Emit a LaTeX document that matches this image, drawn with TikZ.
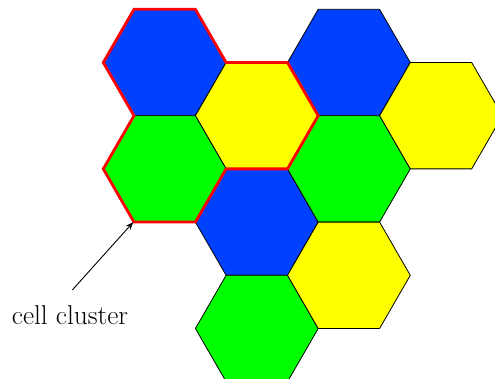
\documentclass[tikz,border=0pt]{standalone}
\usepackage{tikz}
\usetikzlibrary{arrows.meta}
\definecolor{cellblue}{RGB}{0,64,255}
\definecolor{cellyellow}{RGB}{255,255,0}
\definecolor{cellgreen}{RGB}{0,255,0}
\newcommand\hexR{61.4}
\newcommand\hexcell[3]{%
  \filldraw[hexline,fill=#3] (#1,#2) ++(0:\hexR) -- ++(120:\hexR) -- ++(180:\hexR) -- ++(240:\hexR) -- ++(300:\hexR) -- ++(0:\hexR) -- cycle;}
\tikzset{
  hexline/.style={draw=black,line width=0.8pt,line join=miter},
  clusterline/.style={draw=red,line width=2.8pt,line join=miter},
  pointer/.style={-{Stealth[length=8pt,width=6pt]},line width=0.9pt},
  lbltext/.style={font=\fontsize{27.3}{32}\selectfont,inner sep=0pt}
}
\begin{document}
\begin{tikzpicture}[x=1pt,y=-1pt]
\useasboundingbox (0,0) rectangle (495,379);
\clip (0,0) rectangle (495,379);
\hexcell{164.7}{62.5}{cellblue}
\hexcell{256.8}{115.7}{cellyellow}
\hexcell{164.7}{168.9}{cellgreen}
\hexcell{256.8}{222.1}{cellblue}
\hexcell{256.8}{328.5}{cellgreen}
\hexcell{348.9}{62.5}{cellblue}
\hexcell{348.9}{168.9}{cellgreen}
\hexcell{441.0}{115.7}{cellyellow}
\hexcell{348.9}{275.3}{cellyellow}
\draw[clusterline] (134,9.3) -- (195.4,9.3) -- (226.1,62.5) -- (287.5,62.5) -- (318.2,115.7) -- (287.5,168.9) -- (226.1,168.9) -- (195.4,222.1) -- (134,222.1) -- (103.3,168.9) -- (134,115.7) -- (103.3,62.5) -- cycle;
\coordinate (tip) at (133.3,222.1);
\node[lbltext] (lbl) at (70,315) {cell cluster};
\coordinate (tail) at (72.3,290);
\draw[pointer] (tail) -- (tip);
\end{tikzpicture}
\end{document}
